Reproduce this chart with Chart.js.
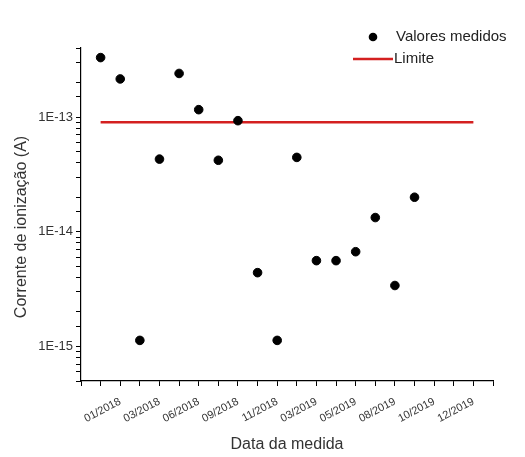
<!DOCTYPE html>
<html>
<head>
<meta charset="utf-8">
<script src="https://cdn.jsdelivr.net/npm/chart.js@4.4.1/dist/chart.umd.min.js"></script>
<style>
  html, body { margin: 0; padding: 0; background: #fff; }
  #wrap { width: 525px; height: 457px; }
</style>
</head>
<body>
<div id="wrap"><canvas id="grafico"></canvas></div>
<script>
// rótulos do eixo x (um a cada duas posições)
const datas = ['01/2018', '03/2018', '06/2018', '09/2018', '11/2018',
               '03/2019', '05/2019', '08/2019', '10/2019', '12/2019'];
// corrente medida (A), na ordem das medidas
const correnteMedida = [3.3e-13, 2.15e-13, 1.13e-15, 4.3e-14, 2.4e-13, 1.16e-13,
                        4.2e-14, 9.3e-14, 4.4e-15, 1.13e-15, 4.45e-14, 5.6e-15,
                        5.6e-15, 6.7e-15, 1.33e-14, 3.4e-15, 2.0e-14];
const limite = 9e-14;
const limiteInicio = 0, limiteFim = 19;

const pontos = correnteMedida.map((v, i) => ({ x: i, y: v }));

const fonte = "'Liberation Sans', Arial, sans-serif";

// legenda e título do eixo y desenhados à mão
const extrasPlugin = {
  id: 'extras',
  afterDraw(chart) {
    const ctx = chart.ctx;
    ctx.save();
    ctx.fillStyle = '#000';
    ctx.beginPath();
    ctx.arc(373, 37, 4.3, 0, Math.PI * 2);
    ctx.fill();
    ctx.strokeStyle = '#d42020';
    ctx.lineWidth = 2.5;
    ctx.beginPath();
    ctx.moveTo(353, 59);
    ctx.lineTo(393, 59);
    ctx.stroke();
    ctx.fillStyle = '#222';
    ctx.font = '15px ' + fonte;
    ctx.textBaseline = 'middle';
    ctx.fillText('Valores medidos', 396, 37);
    ctx.fillText('Limite', 394, 59);

    // título do eixo y
    ctx.translate(22, 227);
    ctx.rotate(-Math.PI / 2);
    ctx.textAlign = 'center';
    ctx.fillStyle = '#333';
    ctx.font = '16px ' + fonte;
    ctx.fillText('Corrente de ionização (A)', 0, 0);
    ctx.restore();
  }
};

const ctx = document.getElementById('grafico').getContext('2d');
new Chart(ctx, {
  type: 'scatter',
  data: {
    datasets: [{
      label: 'Valores medidos',
      data: pontos,
      backgroundColor: '#000',
      borderColor: '#000',
      pointRadius: 4.3,
      pointHoverRadius: 4.3
    }, {
      label: 'Limite',
      type: 'line',
      data: [{ x: limiteInicio, y: limite }, { x: limiteFim, y: limite }],
      borderColor: '#d42020',
      borderWidth: 2.5,
      pointRadius: 0,
      fill: false
    }]
  },
  options: {
    responsive: true,
    maintainAspectRatio: false,
    animation: false,
    layout: { padding: { top: 48, right: 32, left: 0, bottom: 0 } },
    plugins: {
      legend: { display: false },
      tooltip: { enabled: false }
    },
    scales: {
      x: {
        type: 'linear',
        min: -1,
        max: 20,
        afterFit: (s) => { s.height = 76; },
        border: { color: '#000', width: 1.2 },
        grid: { drawOnChartArea: false, tickLength: 5, color: '#000' },
        ticks: {
          stepSize: 1,
          autoSkip: false,
          maxRotation: 28,
          minRotation: 28,
          color: '#333',
          font: { family: fonte, size: 11 },
          padding: 9,
          callback: (v) => (v % 2 === 1 ? datas[(v - 1) / 2] : '')
        },
        title: {
          display: true,
          text: 'Data da medida',
          color: '#333',
          font: { family: fonte, size: 16 },
          padding: { top: 0, bottom: 3 }
        }
      },
      y: {
        type: 'logarithmic',
        min: 5e-16,
        max: 4e-13,
        afterFit: (s) => { s.width = 81; },
        border: { color: '#000', width: 1.2 },
        grid: { drawOnChartArea: false, tickLength: 5, color: '#000' },
        ticks: {
          autoSkip: false,
          color: '#333',
          font: { family: fonte, size: 13 },
          padding: 3,
          callback: (v) => {
            const e = Math.log10(v);
            return Math.abs(e - Math.round(e)) < 1e-6 ? '1E' + Math.round(e) : '';
          }
        }
      }
    }
  },
  plugins: [extrasPlugin]
});
</script>
</body>
</html>
